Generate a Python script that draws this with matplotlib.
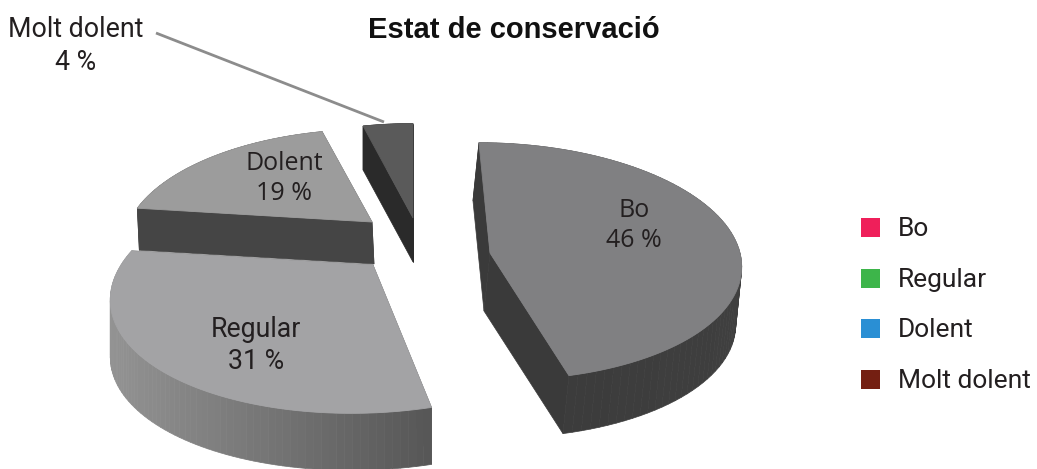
import numpy as np
import matplotlib
matplotlib.use("Agg")
import matplotlib.pyplot as plt
from matplotlib.patches import Rectangle
from matplotlib.colors import to_rgb

# values
categories = ["Bo", "Regular", "Dolent", "Molt dolent"]
shares = [46, 31, 19, 4]
legend_colors = ["#ef1f5a", "#3db54a", "#2a8fd4", "#741f12"]
title = "Estat de conservació"

W, H = 1037, 469

# exploded slices, one entry per category, in pixels
apex_x = [490, 373, 372, 413]
apex_y = [253, 265, 222, 218]
radius_x = [250, 252, 243, 243]
radius_y = [118, 116, 113, 115]
persp = [0.07, 0.218, 0.218, 0.218]
skew = [0.10, -0.147, 0.0, 0.0]
depth = [58, 57, 42, 44]
depth_dx = [-6, 0, 2, 0]
top_gray = ["#808082", "#a3a3a5", "#9c9c9c", "#5a5a5a"]
side_left = ["#3a3a3a", "#939393", "#454545", "#2a2a2a"]
side_right = ["#3f3f3f", "#565656", "#454545", "#2a2a2a"]

label_x = [634, 256, 284, 76]
label_y = [225.5, 345.5, 178.5, 46]
label_font = ["Open Sans", "Roboto", "Open Sans", "Roboto"]
label_size = [18, 19.2, 18, 19.3]


def project(t, i):
    # simple perspective of the pie plane, back of the pie is smaller
    s = 1 + persp[i] * np.sin(t)
    dy = -radius_y[i] * np.sin(t) / s
    x = apex_x[i] + radius_x[i] * np.cos(t) / s + skew[i] * dy
    return x, apex_y[i] + dy


def draw_slice(ax, i, t0, t1):
    t = np.linspace(t0, t1, 80)
    x, y = project(t, i)
    ax0, ay0 = apex_x[i], apex_y[i]
    d = depth[i]
    dx = depth_dx[i]
    # inner faces
    for xe, ye in [(x[0], y[0]), (x[-1], y[-1])]:
        ax.fill([xe, ax0, ax0 + dx, xe + dx], [ye, ay0, ay0 + d, ye + d],
                color=side_left[i] if i != 1 else side_right[i], lw=0.5, zorder=2 + i)
    # outer wall, shaded from left to right
    a, b = np.array(to_rgb(side_left[i])), np.array(to_rgb(side_right[i]))
    for k in range(len(t) - 1):
        u = (0.5 * (x[k] + x[k + 1]) - x.min()) / max(x.max() - x.min(), 1)
        c = a + (b - a) * u
        ax.fill([x[k], x[k + 1], x[k + 1] + dx, x[k] + dx],
                [y[k], y[k + 1], y[k + 1] + d, y[k] + d],
                color=c, lw=0.5, zorder=2 + i)
    # top face
    ax.fill(np.r_[ax0, x], np.r_[ay0, y], color=top_gray[i], lw=0.6, zorder=8 + i)


fig = plt.figure(figsize=(W / 100, H / 100), dpi=100)
ax = fig.add_axes([0, 0, 1, 1])
ax.set_xlim(0, W)
ax.set_ylim(H, 0)
ax.axis("off")

# clockwise from the top, as a spreadsheet pie does
edges = np.pi / 2 - 2 * np.pi * np.cumsum([0] + shares) / sum(shares)
for i in range(len(shares)):
    draw_slice(ax, i, edges[i], edges[i + 1])

# leader line of the small slice
ax.plot([156, 384], [33, 122], color="#8c8c8c", lw=2, solid_capstyle="butt", zorder=20)

for i, name in enumerate(categories):
    ax.text(label_x[i], label_y[i], f"{name}\n{shares[i]} %", ha="center", va="center",
            family=label_font[i], fontsize=label_size[i], color="#231f20",
            linespacing=1.25 if label_font[i] == "Roboto" else 1.3, zorder=30)

ax.text(514, 30, title, ha="center", va="center", family="Liberation Sans",
        fontweight="bold", fontsize=21, color="#111111", zorder=30)

legend_y = [227.5, 278.5, 328.5, 379.5]
for name, col, ly in zip(categories, legend_colors, legend_y):
    ax.add_patch(Rectangle((861, ly - 9.5), 19, 19, color=col, lw=0, zorder=30))
    ax.text(898, ly + 1.5, name, ha="left", va="center", family="Roboto",
            fontsize=19, color="#231f20", zorder=30)

fig.savefig("out.png", dpi=100)
